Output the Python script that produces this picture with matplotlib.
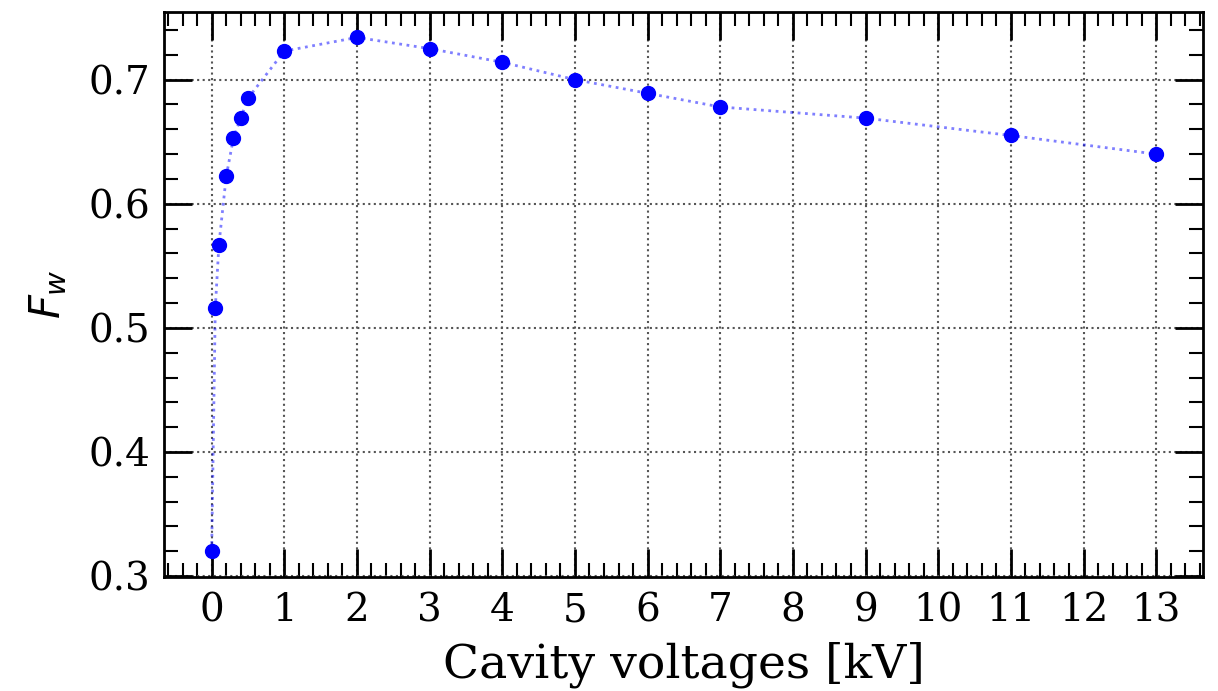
import numpy as np
import matplotlib.pyplot as plt
from matplotlib.ticker import MultipleLocator

# cavity voltage [kV] and F_w
voltage = [0, 0.05, 0.1, 0.2, 0.3, 0.4, 0.5, 1, 2, 3, 4, 5, 6, 7, 9, 11, 13]
f_w = [0.320, 0.516, 0.567, 0.622, 0.653, 0.669, 0.685, 0.723, 0.734,
       0.725, 0.714, 0.700, 0.689, 0.678, 0.669, 0.655, 0.640]

plt.rcParams['font.family'] = 'DejaVu Serif'
plt.rcParams['mathtext.fontset'] = 'dejavusans'

fig, ax = plt.subplots(figsize=(12.18, 6.91), dpi=100)
ax.plot(voltage, f_w, linestyle=':', color='blue', alpha=0.5, linewidth=2)
ax.plot(voltage, f_w, linestyle='none', marker='o', color='blue', markersize=10)

ax.set_xlabel('Cavity voltages [kV]', fontsize=34, labelpad=9)
ax.set_ylabel('$F_w$', fontsize=30, labelpad=14)

ax.xaxis.set_major_locator(MultipleLocator(1))
ax.xaxis.set_minor_locator(MultipleLocator(0.2))
ax.yaxis.set_major_locator(MultipleLocator(0.1))
ax.yaxis.set_minor_locator(MultipleLocator(0.02))

ax.tick_params(axis='both', which='major', direction='in', length=20, width=2,
               labelsize=28, top=True, right=True)
ax.tick_params(axis='x', which='major', pad=11)
ax.tick_params(axis='y', which='major', pad=10)
ax.tick_params(axis='both', which='minor', direction='in', length=10, width=1.5,
               top=True, right=True)
for s in ax.spines.values():
    s.set_linewidth(2)

ax.grid(True, which='major', linestyle=':', color='#555555', linewidth=1.5)

plt.subplots_adjust(left=0.135, right=0.988, top=0.983, bottom=0.165)
plt.savefig('out.png', dpi=100)
